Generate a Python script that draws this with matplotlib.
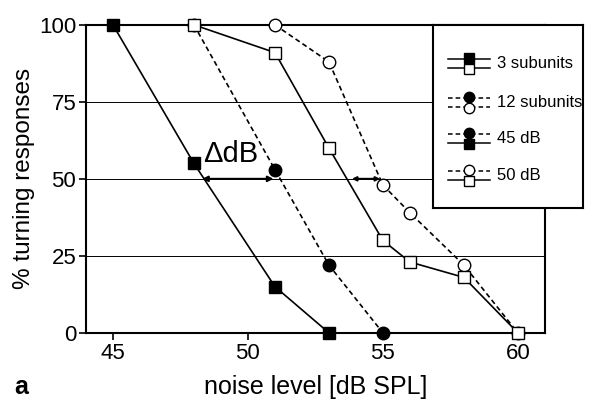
import matplotlib
matplotlib.use("Agg")
import matplotlib.pyplot as plt
from matplotlib import rcParams
import numpy as np

rcParams['font.family'] = ['Liberation Sans', 'DejaVu Sans']
rcParams['font.size'] = 12

# data
x_3sub_45 = [45, 48, 51, 53]
y_3sub_45 = [100, 55, 15, 0]
x_12sub_45 = [48, 51, 53, 55]
y_12sub_45 = [100, 53, 22, 0]
x_3sub_50 = [48, 51, 53, 55, 56, 58, 60]
y_3sub_50 = [100, 91, 60, 30, 23, 18, 0]
x_12sub_50 = [51, 53, 55, 56, 58, 60]
y_12sub_50 = [100, 88, 48, 39, 22, 0]

xticks = [45, 50, 55, 60]
yticks = [0, 25, 50, 75, 100]
legend_labels = ['3 subunits', '12 subunits', '45 dB', '50 dB']

lw = 1.2
dash = (0, (3, 2))
ms = 9

fig = plt.figure(figsize=(5.89, 4.01), dpi=100)
ax = fig.add_axes([0.146, 0.170, 0.779, 0.768])

for y in [25, 50, 75]:
    ax.axhline(y, color='k', lw=0.7, zorder=1)

ax.plot(x_12sub_45, y_12sub_45, ls=dash, color='k', lw=lw, marker='o', ms=ms,
        mfc='k', mec='k', zorder=3, clip_on=False)
ax.plot(x_12sub_50, y_12sub_50, ls=dash, color='k', lw=lw, marker='o', ms=ms,
        mfc='white', mec='k', mew=1.0, zorder=3, clip_on=False)
ax.plot(x_3sub_45, y_3sub_45, ls='-', color='k', lw=lw, marker='s', ms=ms - 0.5,
        mfc='k', mec='k', zorder=4, clip_on=False)
ax.plot(x_3sub_50, y_3sub_50, ls='-', color='k', lw=lw, marker='s', ms=ms - 0.5,
        mfc='white', mec='k', mew=1.0, zorder=4, clip_on=False)

# delta dB arrows
ax.annotate('', xy=(48.3, 50), xytext=(50.95, 50),
            arrowprops=dict(arrowstyle='<|-|>', color='k', lw=1.5,
                            mutation_scale=8, shrinkA=0, shrinkB=0), zorder=5)
ax.annotate('', xy=(53.85, 50), xytext=(54.9, 50),
            arrowprops=dict(arrowstyle='<|-|>', color='k', lw=1.5,
                            mutation_scale=6, shrinkA=0, shrinkB=0), zorder=5)
ax.text(48.35, 55.5, 'ΔdB', fontsize=21, ha='left', va='baseline')

ax.set_xlim(44, 61)
ax.set_ylim(0, 100)
ax.set_xticks(xticks)
ax.set_yticks(yticks)
ax.tick_params(direction='out', length=5, width=1.2, labelsize=16, pad=2)
for s in ax.spines.values():
    s.set_linewidth(1.5)
ax.set_xlabel('noise level [dB SPL]', fontsize=18, labelpad=8)
ax.set_ylabel('% turning responses', fontsize=17.5, labelpad=3)
fig.text(0.024, 0.018, 'a', fontsize=18, fontweight='bold')

# hand-drawn legend box with composite symbols
lax = fig.add_axes([0.735, 0.481, 0.255, 0.456])
lax.set_xlim(0, 150)
lax.set_ylim(183, 0)
lax.set_xticks([])
lax.set_yticks([])
for s in lax.spines.values():
    s.set_linewidth(1.5)

rows = [38, 77, 113, 150]
styles = [('-', '-', 's', 'k', 's', 'w'),
          (dash, dash, 'o', 'k', 'o', 'w'),
          (dash, '-', 'o', 'k', 's', 'k'),
          (dash, '-', 'o', 'w', 's', 'w')]
for ry, lab, st in zip(rows, legend_labels, styles):
    top_ls, bot_ls, top_m, top_c, bot_m, bot_c = st
    lax.plot([15, 57], [ry - 4.5, ry - 4.5], ls=top_ls, color='k', lw=1.1)
    lax.plot([15, 57], [ry + 4.5, ry + 4.5], ls=bot_ls, color='k', lw=1.1)
    lax.plot([36], [ry + 5.5], marker=bot_m, ms=7.5, mfc=bot_c, mec='k', mew=1.0)
    lax.plot([36], [ry - 5.5], marker=top_m, ms=7.5, mfc=top_c, mec='k', mew=1.0)
    lax.text(64, ry, lab, fontsize=12, va='center', ha='left')

fig.savefig('out.png', dpi=100)
